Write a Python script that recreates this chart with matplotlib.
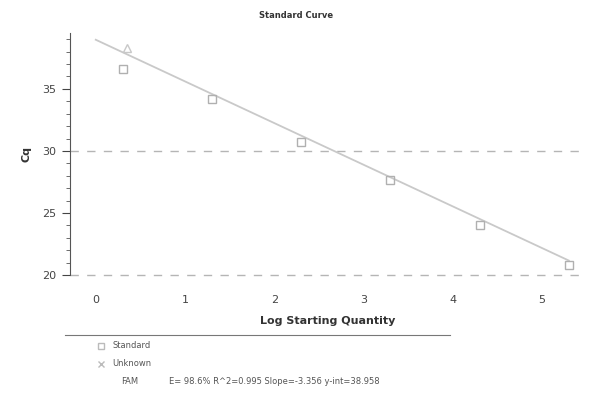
import matplotlib
matplotlib.use("Agg")
import matplotlib.pyplot as plt
from matplotlib.ticker import MultipleLocator
from matplotlib.lines import Line2D

# values
std_x = [0.3, 1.3, 2.3, 3.3, 4.3, 5.3]
std_cq = [36.6, 34.2, 30.7, 27.7, 24.0, 20.8]
unk_x = [0.35]
unk_cq = [38.3]
slope = -3.356
y_int = 38.958
fit_x = [0.0, 5.3]
ref_lines = [30, 20]
y_ticks = [20, 25, 30, 35]
x_ticks = [0, 1, 2, 3, 4, 5]
fam_text = "E= 98.6% R^2=0.995 Slope=-3.356 y-int=38.958"

fig = plt.figure(figsize=(5.92, 3.93), dpi=100)
ax = fig.add_axes([0.118, 0.30, 0.87, 0.616])

fit_y = [y_int + slope * x for x in fit_x]
ax.plot(fit_x, fit_y, color="#c9c9c9", lw=1.3, zorder=2)
for y in ref_lines:
    ax.axhline(y, color="#b5b5b5", lw=1.0, ls=(0, (6, 6)), zorder=1, clip_on=False)
ax.plot(std_x, std_cq, ls="none", marker="s", ms=6, mfc="none",
        mec="#b0b0b0", mew=1.0, zorder=3, clip_on=False)
ax.plot(unk_x, unk_cq, ls="none", marker="^", ms=6, mfc="none",
        mec="#c8c8c8", mew=1.0, zorder=3)

ax.set_xlim(-0.29, 5.48)
ax.set_ylim(20, 39.5)
ax.set_xticks(x_ticks)
ax.set_yticks(y_ticks)
ax.yaxis.set_minor_locator(MultipleLocator(1))
for s in ["top", "right", "bottom"]:
    ax.spines[s].set_visible(False)
ax.spines["left"].set_color("#555555")
ax.tick_params(axis="x", length=0, labelsize=8, colors="#444444", pad=14)
ax.tick_params(axis="y", which="major", length=6, labelsize=8, colors="#444444")
ax.tick_params(axis="y", which="minor", length=3, color="#555555")

ax.set_xlabel("Log Starting Quantity", fontsize=8, fontweight="bold", color="#333333", labelpad=8)
ax.set_ylabel("Cq", fontsize=8, fontweight="bold", color="#333333", labelpad=8)
fig.text(0.5, 0.955, "Standard Curve", fontsize=6, fontweight="bold", ha="center", color="#333333")

# legend block under the plot
fig.add_artist(Line2D([0.11, 0.76], [0.148, 0.148], color="#777777", lw=0.8))
fig.text(0.19, 0.12, "Standard", fontsize=6, color="#555555", va="center")
fig.text(0.19, 0.075, "Unknown", fontsize=6, color="#555555", va="center")
fig.text(0.205, 0.03, "FAM", fontsize=6, color="#555555", va="center")
fig.text(0.285, 0.03, fam_text, fontsize=6, color="#555555", va="center")
fig.add_artist(Line2D([0.17], [0.12], marker="s", ms=5, mfc="none", mec="#bbbbbb", ls="none"))
fig.add_artist(Line2D([0.17], [0.075], marker="x", ms=4, mec="#bbbbbb", ls="none"))

fig.savefig("out.png", dpi=100)
